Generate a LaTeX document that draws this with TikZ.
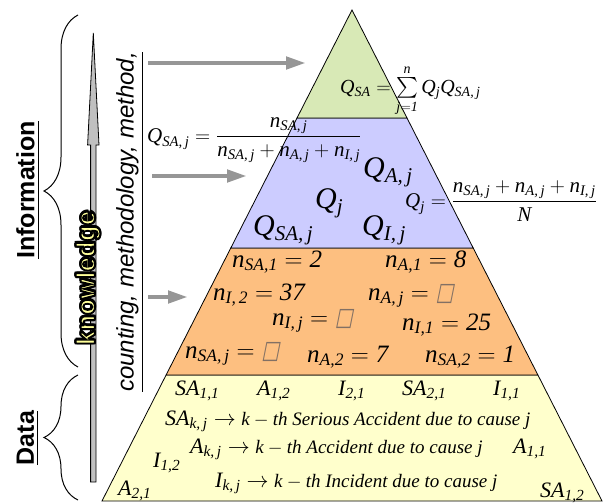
\RequirePackage{fix-cm}
\documentclass[tikz,border=0pt]{standalone}
\usepackage{amsmath}
\usepackage{fontspec}
\setmainfont{Liberation Serif}
\setsansfont{Liberation Sans}
\newfontfamily\boxfont[FakeSlant=0.2,FakeStretch=0.75]{DejaVu Sans}
\usetikzlibrary{arrows.meta,decorations.pathreplacing}

\definecolor{topgreen}{RGB}{216,233,182}
\definecolor{midblue}{RGB}{204,204,255}
\definecolor{cntorange}{RGB}{253,191,128}
\definecolor{datyellow}{RGB}{255,255,204}
\definecolor{feedgray}{RGB}{150,150,150}
\definecolor{shaftgray}{RGB}{192,192,192}
\definecolor{kyellow}{RGB}{255,255,153}
\definecolor{boxgray}{RGB}{130,112,100}

% variable with subscript (math mode)
\newcommand{\vv}[2]{\textit{#1}_{\textit{#2}}}
\newcommand{\qm}{\text{\boxfont\color{boxgray}□}}
% yellow text with black rim
\newcommand{\rimcopy}[3]{\makebox[0pt][l]{\hspace*{#1}\raisebox{#2}{\textcolor{black}{#3}}}}
\newcommand{\rimtext}[1]{%
  \rimcopy{1.5pt}{0pt}{#1}\rimcopy{-1.5pt}{0pt}{#1}%
  \rimcopy{0pt}{1.5pt}{#1}\rimcopy{0pt}{-1.5pt}{#1}%
  \rimcopy{1.1pt}{1.1pt}{#1}\rimcopy{-1.1pt}{1.1pt}{#1}%
  \rimcopy{1.1pt}{-1.1pt}{#1}\rimcopy{-1.1pt}{-1.1pt}{#1}%
  \textcolor{kyellow}{\special{pdf:literal direct 0 0 0 RG 2 Tr 1.6 w}#1\special{pdf:literal direct 0 Tr}}}

\begin{document}
\begin{tikzpicture}[x=1pt,y=-1pt,
  layer/.style={draw=black,line width=0.8pt},
  lbl/.style={anchor=base west,inner sep=0pt},
  bigq/.style={lbl,font=\fontsize{30}{36}\selectfont},
  cnt/.style={lbl,font=\fontsize{25}{30}\selectfont},
  dat/.style={lbl,font=\fontsize{22}{26}\selectfont},
  frm/.style={lbl,font=\fontsize{21}{25}\selectfont},
  side/.style={rotate=90,inner sep=0pt,font=\sffamily\bfseries\fontsize{25}{30}\selectfont},
  feed/.style={line width=4.5pt,draw=feedgray,-{Triangle[length=20pt,width=12pt]}},
  brc/.style={decorate,decoration={brace,amplitude=34pt},line width=1pt}]
\useasboundingbox (0,0) rectangle (608,503);

% pyramid layers
\filldraw[layer,fill=datyellow] (166.1,375) -- (537.9,375) -- (602,501) -- (102,501) -- cycle;
\filldraw[layer,fill=cntorange] (230.8,248) -- (473.2,248) -- (537.9,375) -- (166.1,375) -- cycle;
\filldraw[layer,fill=midblue] (297,118) -- (407,118) -- (473.2,248) -- (230.8,248) -- cycle;
\filldraw[layer,fill=topgreen] (352,10) -- (407,118) -- (297,118) -- cycle;

% left side
\draw[brc] (78,367) -- (78,15);
\draw[brc] (78,500) -- (78,375);
\node[side] (info) at (28,190) {\underline{Information}};
\node[side] (data) at (28,438) {\underline{Data}};
\filldraw[fill=shaftgray,draw=black,line width=0.8pt]
  (90.6,482) -- (90.6,145) -- (87.6,145) -- (93.3,33) -- (99,145) -- (96,145) -- (96,482) -- cycle;
\node[side,font=\sffamily\bfseries\fontsize{26}{30}\selectfont] (know) at (88,278) {\rimtext{knowledge}};
\node[rotate=90,inner sep=0pt,font=\sffamily\itshape\fontsize{24}{28}\selectfont] (meth) at (130,222)
  {\underline{counting, methodology, method,}};

% feed arrows
\coordinate (f1a) at (148,63);  \coordinate (f1b) at (306,63);
\coordinate (f2a) at (152,176); \coordinate (f2b) at (247,176);
\coordinate (f3a) at (148,297); \coordinate (f3b) at (188,297);
\draw[feed] (f1a) -- (f1b);
\draw[feed] (f2a) -- (f2b);
\draw[feed] (f3a) -- (f3b);

% top layer
\node[lbl,font=\fontsize{20}{24}\selectfont] (qsa) at (340,93)
  {$\vv{Q}{SA}=\sum\limits_{\textit{j}=\textit{1}}^{\textit{n}}\vv{Q}{j}\vv{Q}{SA,\,j}$};

% middle layer
\node[frm] (qsaj) at (147,142)
  {$\vv{Q}{SA,\,j}=\dfrac{\vv{n}{SA,\,j}}{\vv{n}{SA,\,j}+\vv{n}{A,\,j}+\vv{n}{I,\,j}}$};
\node[frm] (qjf) at (405,207)
  {$\vv{Q}{j}=\dfrac{\vv{n}{SA,\,j}+\vv{n}{A,\,j}+\vv{n}{I,\,j}}{\textit{N}}$};
\node[bigq] (qa) at (363,177) {$\vv{Q}{A,\,j}$};
\node[bigq] (qj) at (315,208) {$\vv{Q}{j}$};
\node[bigq] (qs) at (253,235) {$\vv{Q}{SA,\,j}$};
\node[bigq] (qi) at (362,235) {$\vv{Q}{I,\,j}$};

% counting layer
\node[cnt] (c1) at (232,267) {$\vv{n}{SA,1}=\textit{2}$};
\node[cnt] (c2) at (385,267) {$\vv{n}{A,1}=\textit{8}$};
\node[cnt] (c3) at (213,300) {$\vv{n}{I,\,2}=\textit{37}$};
\node[cnt] (c4) at (368,300) {$\vv{n}{A,\,j}=\qm$};
\node[cnt] (c5) at (272,325) {$\vv{n}{I,\,j}=\qm$};
\node[cnt] (c6) at (402,330) {$\vv{n}{I,1}=\textit{25}$};
\node[cnt] (c7) at (185,358) {$\vv{n}{SA,\,j}=\qm$};
\node[cnt] (c8) at (307,362) {$\vv{n}{A,2}=\textit{7}$};
\node[cnt] (c9) at (425,362) {$\vv{n}{SA,2}=\textit{1}$};

% data layer
\node[dat] (d1) at (175,395) {$\vv{SA}{1,1}$};
\node[dat] (d2) at (257,395) {$\vv{A}{1,2}$};
\node[dat] (d3) at (338,395) {$\vv{I}{2,1}$};
\node[dat] (d4) at (402,395) {$\vv{SA}{2,1}$};
\node[dat] (d5) at (493,395) {$\vv{I}{1,1}$};
\node[dat] (k1) at (165,425) {$\vv{SA}{k,\,j}\rightarrow$
  {\fontsize{19}{23}\selectfont$\textit{k}-\textit{th}$ \textit{Serious Accident due to cause j}}};
\node[dat] (k2) at (190,453) {$\vv{A}{k,\,j}\rightarrow$
  {\fontsize{19}{23}\selectfont$\textit{k}-\textit{th}$ \textit{Accident due to cause j}}};
\node[dat] (k3) at (215,487) {$\vv{I}{k,\,j}\rightarrow$
  {\fontsize{19}{23}\selectfont$\textit{k}-\textit{th}$ \textit{Incident due to cause j}}};
\node[dat] (d6) at (513,453) {$\vv{A}{1,1}$};
\node[dat] (d7) at (153,467) {$\vv{I}{1,2}$};
\node[dat] (d8) at (118,495) {$\vv{A}{2,1}$};
\node[dat] (d9) at (540,497) {$\vv{SA}{1,2}$};
\end{tikzpicture}
\end{document}
